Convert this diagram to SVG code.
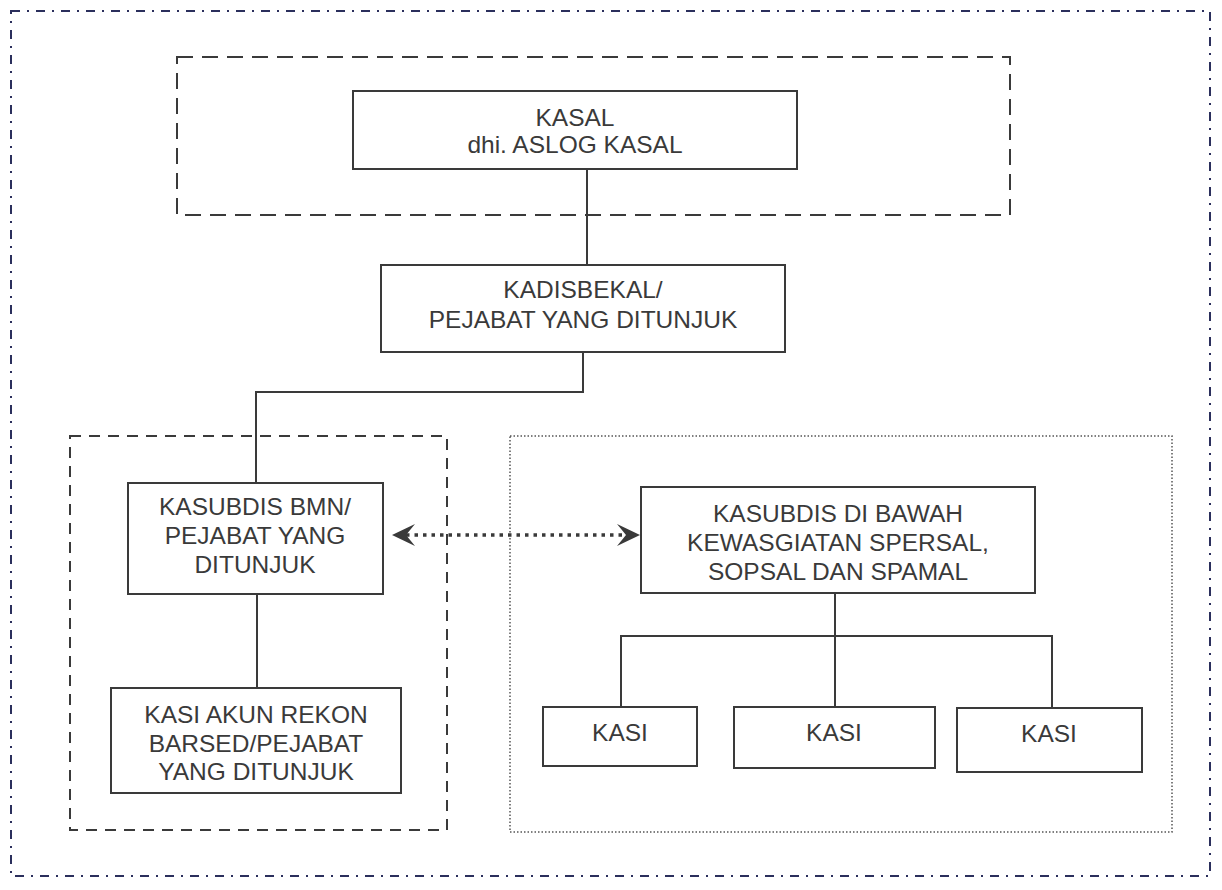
<svg xmlns="http://www.w3.org/2000/svg" width="1222" height="890" viewBox="0 0 1222 890">
  <style>
    .box { fill: #ffffff; stroke: #3a3a3a; stroke-width: 2; }
    .lbl { font-family: "Liberation Sans", Arial, sans-serif; font-size: 24.5px; fill: #3a3a3a; text-anchor: middle; }
    .wire { fill: none; stroke: #3a3a3a; stroke-width: 2; }
    .outer { fill: none; stroke: #2b2f5c; stroke-width: 2; stroke-dasharray: 9 7 2 7; }
    .dashed { fill: none; stroke: #3a3a3a; stroke-width: 2; stroke-dasharray: 16 9; }
    .dashed2 { fill: none; stroke: #3a3a3a; stroke-width: 2; stroke-dasharray: 11 8; }
    .dotted { fill: none; stroke: #555555; stroke-width: 1.5; stroke-dasharray: 1.5 2; }
    .link { fill: none; stroke: #3a3a3a; stroke-width: 3.5; stroke-dasharray: 3.5 5; }
  </style>
  <defs>
    <marker id="stealth" markerUnits="userSpaceOnUse" markerWidth="24" markerHeight="24" refX="9" refY="11" orient="auto-start-reverse" viewBox="0 0 24 22">
      <path d="M0,0 L23,11 L0,22 L9,11 Z" fill="#3a3a3a"/>
    </marker>
  </defs>

  <rect width="1222" height="890" fill="#ffffff"/>

  <!-- frames -->
  <g id="frames">
    <rect class="outer" x="11" y="11" width="1199" height="865"/>
    <rect class="dashed" x="177" y="57" width="833" height="158"/>
    <rect class="dashed2" x="70" y="436" width="377" height="394"/>
    <rect class="dotted" x="510" y="436" width="662" height="396"/>
  </g>

  <!-- connectors -->
  <g id="connectors">
    <path class="wire" d="M587,169 V265"/>
    <path class="wire" d="M583,352 V392 H256 V483"/>
    <path class="wire" d="M257,594 V688"/>
    <path class="wire" d="M835,593 V707"/>
    <path class="wire" d="M621,707 V636 H1052 V708"/>
    <path class="link" d="M406,535 H626" marker-start="url(#stealth)" marker-end="url(#stealth)"/>
  </g>

  <g id="kasal">
    <rect class="box" x="353" y="91" width="444" height="78"/>
    <text class="lbl" x="575" y="126">KASAL</text>
    <text class="lbl" x="575" y="153">dhi. ASLOG KASAL</text>
  </g>

  <g id="kadisbekal">
    <rect class="box" x="381" y="265" width="404" height="87"/>
    <text class="lbl" x="583" y="298">KADISBEKAL/</text>
    <text class="lbl" x="583" y="328">PEJABAT YANG DITUNJUK</text>
  </g>

  <g id="kasubdis-bmn">
    <rect class="box" x="128" y="483" width="255" height="111"/>
    <text class="lbl" x="255" y="515">KASUBDIS BMN/</text>
    <text class="lbl" x="255" y="544">PEJABAT YANG</text>
    <text class="lbl" x="255" y="573">DITUNJUK</text>
  </g>

  <g id="kasi-akun">
    <rect class="box" x="111" y="688" width="290" height="105"/>
    <text class="lbl" x="256" y="723">KASI AKUN REKON</text>
    <text class="lbl" x="256" y="752">BARSED/PEJABAT</text>
    <text class="lbl" x="256" y="780">YANG DITUNJUK</text>
  </g>

  <g id="kasubdis-bawah">
    <rect class="box" x="641" y="487" width="394" height="106"/>
    <text class="lbl" x="838" y="522">KASUBDIS DI BAWAH</text>
    <text class="lbl" x="838" y="551">KEWASGIATAN SPERSAL,</text>
    <text class="lbl" x="838" y="580">SOPSAL DAN SPAMAL</text>
  </g>

  <g id="kasi-1">
    <rect class="box" x="543" y="707" width="154" height="59"/>
    <text class="lbl" x="620" y="741">KASI</text>
  </g>

  <g id="kasi-2">
    <rect class="box" x="734" y="707" width="201" height="61"/>
    <text class="lbl" x="834" y="741">KASI</text>
  </g>

  <g id="kasi-3">
    <rect class="box" x="957" y="708" width="185" height="64"/>
    <text class="lbl" x="1049" y="742">KASI</text>
  </g>
</svg>
